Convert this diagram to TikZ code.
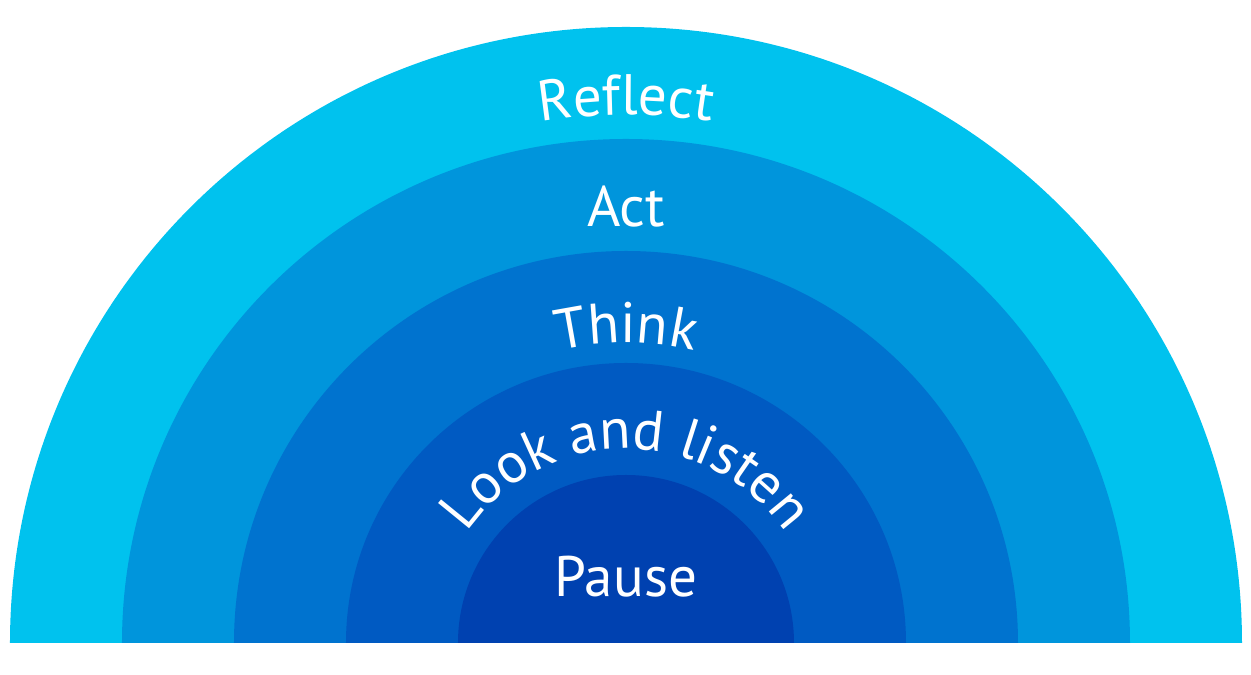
\documentclass[tikz,border=0pt]{standalone}
\usepackage{fontspec}
\setmainfont{PT Sans}
\usetikzlibrary{decorations.text}
\definecolor{ringA}{HTML}{00C2EE}
\definecolor{ringB}{HTML}{0095DC}
\definecolor{ringC}{HTML}{0073CF}
\definecolor{ringD}{HTML}{005AC2}
\definecolor{ringE}{HTML}{0041B0}
\newcommand{\ringfont}{\fontsize{32.5}{38}\selectfont\color{white}}
\tikzset{
  ringlabel/.style={text=white,font=\ringfont,anchor=base,inner sep=0pt},
  arclabel/.style={decorate,decoration={text along path,text align=center,
      text={|\ringfont|#1}}}
}
\begin{document}
\begin{tikzpicture}[x=0.02cm,y=0.02cm]
\useasboundingbox (-626,-32) rectangle (625,643);
% semicirculos
\foreach \r/\c in {616/ringA,504/ringB,392/ringC,280/ringD,168/ringE}
  \fill[\c] (-\r,0) arc[start angle=180,end angle=0,radius=\r] -- cycle;
% textos
\path[arclabel={Reflect}] (162:528) arc[start angle=162,end angle=18,radius=528];
\node[ringlabel] (act) at (0,416) {Act};
\path[arclabel={Think}] (160:300) arc[start angle=160,end angle=20,radius=300];
\path[arclabel={Look and listen}] (170:194) arc[start angle=170,end angle=10,radius=194];
\node[ringlabel] (pause) at (0,46) {Pause};
\end{tikzpicture}
\end{document}
